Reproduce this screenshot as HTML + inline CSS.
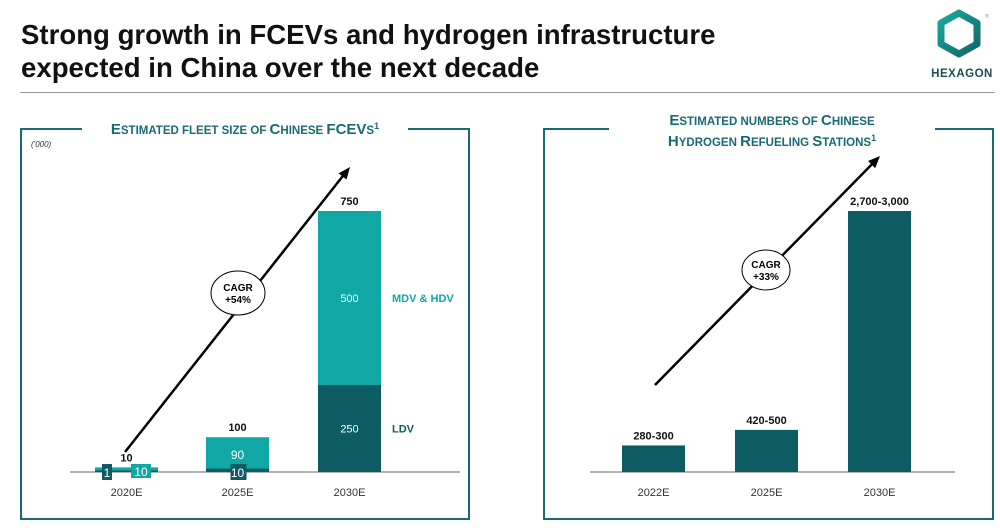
<!DOCTYPE html>
<html><head><meta charset="utf-8"><style>
body{margin:0;width:1000px;height:531px;background:#fff;font-family:"Liberation Sans",Arial,sans-serif;overflow:hidden;position:relative}
.t{position:absolute;left:21px;top:18px;font-size:27.6px;font-weight:bold;line-height:33px;color:#111}
</style></head><body>
<div class="t">Strong growth in FCEVs and hydrogen infrastructure<br>expected in China over the next decade</div>
<div style="position:absolute;left:20px;top:92px;width:975px;height:1px;background:#999"></div>
<svg style="position:absolute;left:930px;top:8px" width="70" height="75">
<defs><linearGradient id="lg" x1="0" y1="0" x2="1" y2="1"><stop offset="0" stop-color="#1aa89c"/><stop offset="1" stop-color="#10666a"/></linearGradient></defs>
<polygon points="29,5 47,15 47,36 29,46 11,36 11,15" fill="none" stroke="url(#lg)" stroke-width="7" stroke-linejoin="round"/>
<text x="55" y="10" font-size="5" fill="#888">®</text>
<text x="32" y="69" font-size="11.5" font-weight="bold" fill="#1a4f55" text-anchor="middle" letter-spacing="0.5">HEXAGON</text>
</svg>
<svg id="c" width="1000" height="531" style="position:absolute;left:0;top:0"></svg>
<script>
const fleetCats=["2020E","2025E","2030E"];
const fleetLDV=[1,10,250];
const fleetMHDV=[9,90,500];
const fleetTotals=["10","100","750"];
const fleetLdvLbl=["1","10","250"];
const fleetMhdvLbl=["10","90","500"];
const hrsCats=["2022E","2025E","2030E"];
const hrsVals=[290,460,2850];
const hrsLabels=["280-300","420-500","2,700-3,000"];
const NS="http://www.w3.org/2000/svg";
const svg=document.getElementById('c');
function mk(t,a,txt){const e=document.createElementNS(NS,t);for(const k in a)e.setAttribute(k,a[k]);if(txt!==undefined)e.textContent=txt;svg.appendChild(e);return e;}
const DARK="#0e5c63",LIGHT="#10a7a5",TEAL="#186a73";
function frame(x1,x2,gapA,gapB,name){
 const p=mk('path',{d:`M${gapA},129 H${x1} V519 H${x2} V129 H${gapB}`,fill:'none',stroke:TEAL,'stroke-width':2});
 
}
frame(21,469,82,408,'fleet-panel-frame');
frame(544,993,609,935,'stations-panel-frame');
function title(x,y,parts,name){
 const t=mk('text',{x:x,y:y,'text-anchor':'middle','font-weight':'bold',fill:TEAL});
 
 parts.forEach(p=>{const s=document.createElementNS(NS,'tspan');s.setAttribute('font-size',p[1]);if(p[2])s.setAttribute('dy',p[2]);s.textContent=p[0];t.appendChild(s);});
}
title(245,134,[["E","15"],["STIMATED FLEET SIZE OF ","11.5"],["C","15"],["HINESE ","11.5"],["FCEV","15"],["S","11.5"],["1","9","-5"]],'fleet-chart-title');
title(772,125,[["E","15"],["STIMATED NUMBERS OF ","11.5"],["C","15"],["HINESE","11.5"]],'stations-title-line1');
title(772,146,[["H","15"],["YDROGEN ","11.5"],["R","15"],["EFUELING ","11.5"],["S","15"],["TATIONS","11.5"],["1","9","-5"]],'stations-title-line2');
let u=mk('text',{x:31,y:147,'font-size':8,'font-style':'italic',fill:'#333'},"('000)");

const base=472;
const fx=[95,206,318],bw=63;const fy=v=>v*261/750;
let ax=mk('line',{x1:70,x2:460,y1:base,y2:base,stroke:'#666','stroke-width':1});

fleetCats.forEach((c,i)=>{
 const hl=Math.max(fy(fleetLDV[i]),1.5),hm=Math.max(fy(fleetMHDV[i]),3);
 let r=mk('rect',{x:fx[i],y:base-hl,width:bw,height:hl,fill:DARK});
 
 r=mk('rect',{x:fx[i],y:base-hl-hm,width:bw,height:hm,fill:LIGHT});
 
 const top=base-hl-hm;const cx=fx[i]+bw/2;
 let t=mk('text',{x:cx,y:top-6,'font-size':11,'font-weight':'bold','text-anchor':'middle',fill:'#111'},fleetTotals[i]);
 
 t=mk('text',{x:cx,y:base+24,'font-size':11,'text-anchor':'middle',fill:'#333'},c);
 
 if(i<2){
  const lx=i==0?fx[i]+14:cx, mx=i==0?fx[i]+46:cx;
  let b=mk('rect',{x:lx-7,y:base-8,width:i==0?10:16,height:16,fill:DARK});
  t=mk('text',{x:lx-(i==0?2:0),y:base+5,'font-size':12,'text-anchor':'middle',fill:'#fff'},fleetLdvLbl[i]);
  
  if(i==0){b=mk('rect',{x:mx-10,y:base-8,width:20,height:14,fill:LIGHT});}
  t=mk('text',{x:mx,y:i==0?base+4:top+(base-hl-top)/2+6,'font-size':12,'text-anchor':'middle',fill:'#fff'},fleetMhdvLbl[i]);
  
 }else{
  t=mk('text',{x:cx,y:base-hl/2+4,'font-size':11,'text-anchor':'middle',fill:'#fff'},fleetLdvLbl[i]);
  
  t=mk('text',{x:cx,y:top+hm/2+4,'font-size':11,'text-anchor':'middle',fill:'#fff'},fleetMhdvLbl[i]);
  
  t=mk('text',{x:392,y:top+hm/2+4,'font-size':11,'font-weight':'bold',fill:LIGHT},'MDV & HDV');
  
  t=mk('text',{x:392,y:base-hl/2+4,'font-size':11,'font-weight':'bold',fill:DARK},'LDV');
  
 }
});
const hx=[622,735,848];const hy=v=>v*261/2850;
ax=mk('line',{x1:590,x2:955,y1:base,y2:base,stroke:'#666','stroke-width':1});

hrsCats.forEach((c,i)=>{
 const h=hy(hrsVals[i]);const cx=hx[i]+31.5;
 let r=mk('rect',{x:hx[i],y:base-h,width:63,height:h,fill:DARK});
 
 let t=mk('text',{x:cx,y:base-h-6,'font-size':11,'font-weight':'bold','text-anchor':'middle',fill:'#111'},hrsLabels[i]);
 
 t=mk('text',{x:cx,y:base+24,'font-size':11,'text-anchor':'middle',fill:'#333'},c);
 
});
function arrow(x1,y1,x2,y2,ex,ey,rx,ry,txt,n){
 const a=Math.atan2(y2-y1,x2-x1);
 let l=mk('line',{x1:x1,y1:y1,x2:x2-8*Math.cos(a),y2:y2-8*Math.sin(a),stroke:'#000','stroke-width':2.5});
 
 const p=[[x2,y2],[x2-12*Math.cos(a)+5*Math.sin(a),y2-12*Math.sin(a)-5*Math.cos(a)],[x2-12*Math.cos(a)-5*Math.sin(a),y2-12*Math.sin(a)+5*Math.cos(a)]];
 let h=mk('polygon',{points:p.map(q=>q.join(',')).join(' '),fill:'#000'});
 let e=mk('ellipse',{cx:ex,cy:ey,rx:rx,ry:ry,fill:'#fff',stroke:'#000','stroke-width':1});
 
 let t=mk('text',{x:ex,y:ey-2,'font-size':10,'font-weight':'bold','text-anchor':'middle'},'CAGR');
 t=mk('text',{x:ex,y:ey+10,'font-size':10,'font-weight':'bold','text-anchor':'middle'},txt);
}
arrow(125,452,350,167,238,293,27,22,'+54%','fleet');
arrow(655,385,880,156,766,270,24,20,'+33%','stations');
</script>
</body></html>
